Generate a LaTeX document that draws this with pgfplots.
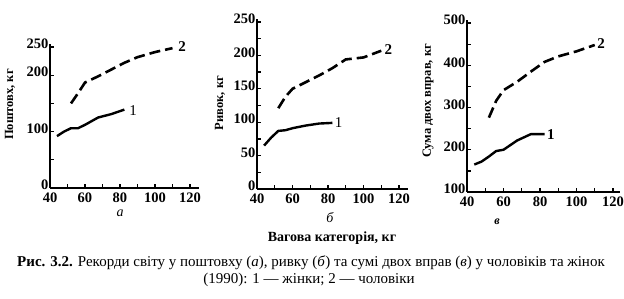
\documentclass[border=0pt]{standalone}
\usepackage{fontspec}
\setmainfont{Liberation Serif}
\usepackage{pgfplots}
\pgfplotsset{compat=1.18}
\pgfplotsset{
  panel/.style={
    scale only axis,
    anchor=south west,
    axis x line=bottom, axis y line=left,
    axis line style={-, line width=2pt, black},
    xmin=40, xmax=125,
    xtick={40,60,80,100,120},
    minor xtick={50,70,90,110},
    tick align=inside,
    major tick length=4pt, minor tick length=4pt,
    every tick/.style={black, line width=1.3pt},
    ticklabel style={font=\fontsize{14.5}{14.5}\selectfont\bfseries, inner sep=0.5pt},
    xticklabel style={yshift=-4.5pt},
    yticklabel style={yshift=3pt, xshift=-1pt},
    /pgf/number format/assume math mode=true,
    clip=false,
  },
  women/.style={black, line width=2.4pt, line join=round},
  men/.style={black, line width=2.6pt, dash pattern=on 11pt off 5pt},
}
\begin{document}
\begin{tikzpicture}
% panel a
\begin{axis}[panel, at={(50pt,111pt)}, width=148.75pt, height=143.8pt,
  ymin=0, ymax=255, ytick={0,50,...,250}, yticklabels={0,,100,,200,250}]
\addplot[women] coordinates {(44,92) (48,100) (52,106) (56,106) (60,112) (67.5,125) (75,131) (82.5,139)};
\addplot[men] coordinates {(52,150) (56,168) (60,187) (67.5,198) (75,210) (82.5,222) (90,232) (100,241) (110,248)};
\node[font=\fontsize{15}{15}\selectfont] at (axis cs:87.5,138) {1};
\node[font=\fontsize{15}{15}\selectfont\bfseries] at (axis cs:115.5,251) {2};
\end{axis}
% panel b
\begin{axis}[panel, at={(257pt,110pt)}, width=150.9pt, height=170.3pt,
  ymin=0, ymax=255, ytick={0,25,...,250}, yticklabels={0,,50,,100,,150,,200,,250}]
\addplot[women] coordinates {(44,65) (48,77) (52,87) (56,88) (60,91) (67.5,95) (75,98) (82.5,99)};
\addplot[men] coordinates {(52,121) (56,138) (60,150) (67.5,160) (75,170) (82.5,181) (90,194) (100,197) (110,207)};
\node[font=\fontsize{15}{15}\selectfont] at (axis cs:86,100) {1};
\node[font=\fontsize{15}{15}\selectfont\bfseries] at (axis cs:114,209) {2};
\end{axis}
% panel c
\begin{axis}[panel, at={(467pt,107pt)}, width=153.3pt, height=171.5pt, xmax=124,
  ymin=100, ymax=506, ytick={100,150,...,500}, yticklabels={100,,200,,300,,400,,500}]
\addplot[women] coordinates {(44,165) (48,172) (52,184) (56,197) (60,200) (67.5,222) (75,237) (82.5,237)};
\addplot[men] coordinates {(52,276) (56,316) (60,341) (67.5,361) (75,385) (82.5,408) (90,421) (100,433) (110,448)};
\node[font=\fontsize{15}{15}\selectfont\bfseries] at (axis cs:86,235) {1};
\node[font=\fontsize{15}{15}\selectfont\bfseries] at (axis cs:113.5,452) {2};
\end{axis}
% y labels
\node[rotate=90, font=\fontsize{12.5}{12.5}\selectfont\bfseries] at (10pt,194.5pt) {Поштовх, кг};
\node[rotate=90, font=\fontsize{12.5}{12.5}\selectfont\bfseries] at (220pt,196pt) {Ривок, кг};
\node[rotate=90, font=\fontsize{12.5}{12.5}\selectfont\bfseries] at (428pt,198pt) {Сума двох вправ, кг};
% panel letters and x label
\node[font=\fontsize{14}{14}\selectfont\itshape] at (120pt,86pt) {а};
\node[font=\fontsize{14}{14}\selectfont\itshape] at (330pt,81pt) {б};
\node[font=\fontsize{12}{12}\selectfont\itshape\bfseries] at (497pt,77pt) {в};
\node[font=\fontsize{14}{14}\selectfont\bfseries] at (332pt,61pt) {Вагова категорія, кг};
% caption
\node[font=\fontsize{15}{15}\selectfont] at (311pt,36pt) {\textbf{Рис. 3.2.} Рекорди світу у поштовху (\textit{а}), ривку (\textit{б}) та сумі двох вправ (\textit{в}) у чоловіків та жінок};
\node[font=\fontsize{15}{15}\selectfont] at (309pt,19pt) {(1990): 1 — жінки; 2 — чоловіки};
\pgfresetboundingbox
\useasboundingbox (0pt,0pt) rectangle (624pt,299pt);
\end{tikzpicture}
\end{document}
